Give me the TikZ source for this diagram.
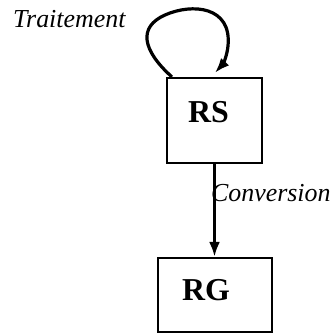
\documentclass[tikz,border=0pt]{standalone}
\usepackage{fontspec}
\setmainfont{Liberation Serif}
\usetikzlibrary{arrows.meta,positioning}
\tikzset{
  regbox/.style={draw,line width=2.2bp,rectangle,inner ysep=0pt,align=left,font=\fontsize{32}{36}\selectfont\bfseries},
  flow/.style={-{Latex[length=15bp,width=11bp]},line width=3.2bp},
  lbl/.style={inner sep=0pt,font=\fontsize{26}{30}\selectfont\itshape}
}
\begin{document}
\begin{tikzpicture}[x=1bp,y=1bp]
\useasboundingbox (0,0) rectangle (335,-333);

\node (RS) at (214.5,-120.5)[regbox,inner xsep=21bp,text width=53bp,text height=44bp,text depth=41bp] {RS};
\node (RG) at (215,-295)[regbox,inner xsep=24bp,text width=66bp,text height=42bp,text depth=32bp] {RG};
\node (T) at (13,-27)[lbl,anchor=base west] {Traitement};
\draw [flow] ([xshift=6bp]RS.north west) .. controls (142,-50) and (138,-27) .. (165,-15) .. controls (192,-3) and (232,-6) .. (228,-46) .. controls (227,-56) and (223,-64) .. ([xshift=49bp,yshift=4bp]RS.north west);
\draw [flow] (RS.south) to node[lbl,pos=0.4,anchor=base west,xshift=-5bp] {Conversion} (RS.south |- RG.north);
\end{tikzpicture}
\end{document}
